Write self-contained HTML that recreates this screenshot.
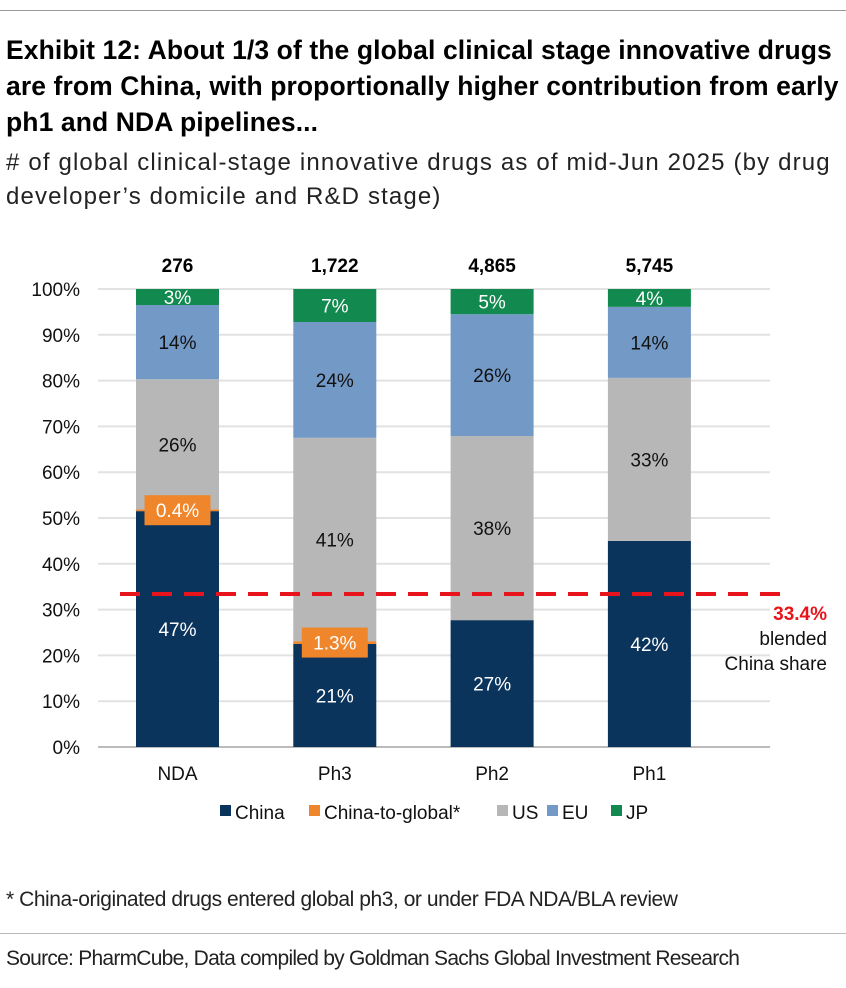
<!DOCTYPE html>
<html><head><meta charset="utf-8"><style>
body{margin:0;background:#fff;font-family:"Liberation Sans",sans-serif;}
#wrap{position:relative;width:846px;height:988px;overflow:hidden;}
.t{position:absolute;left:6px;white-space:nowrap;}
</style></head><body>
<div id="wrap">
<div style="position:absolute;left:0;top:10px;width:846px;height:1px;background:#999"></div>
<div class="t" style="top:32px;font-weight:bold;font-size:26.5px;line-height:36px;color:#000;white-space:normal;width:840px;letter-spacing:0.1px">Exhibit 12: About 1/3 of the global clinical stage innovative drugs are from China, with proportionally higher contribution from early ph1 and NDA pipelines...</div>
<div class="t" style="top:146px;font-size:24px;line-height:34px;color:#222;letter-spacing:1.15px">&#35; of global clinical-stage innovative drugs as of mid-Jun 2025 (by drug<br>developer’s domicile and R&amp;D stage)</div>
<svg id="chart" width="846" height="860" style="position:absolute;left:0;top:0"></svg>
<div class="t" style="top:888px;font-size:21px;color:#222;letter-spacing:-0.45px">* China-originated drugs entered global ph3, or under FDA NDA/BLA review</div>
<div style="position:absolute;left:0;top:933px;width:846px;height:1px;background:#bbb"></div>
<div class="t" style="top:947px;font-size:21px;color:#222;letter-spacing:-0.75px">Source: PharmCube, Data compiled by Goldman Sachs Global Investment Research</div>
</div>
<script>
const categories=["NDA","Ph3","Ph2","Ph1"];
const totals=["276","1,722","4,865","5,745"];
const seriesNames=["China","China-to-global*","US","EU","JP"];
const china=[51.5,22.5,27.7,45];
const chinaToGlobal=[0.4,0.6,0,0];
const us=[28.4,44.4,40.2,35.6];
const eu=[16.2,25.3,26.6,15.5];
const jp=[3.5,7.2,5.5,3.9];
const labelsChina=["47%","21%","27%","42%"];
const labelsC2G=["0.4%","1.3%","",""];
const labelsUS=["26%","41%","38%","33%"];
const labelsEU=["14%","24%","26%","14%"];
const labelsJP=["3%","7%","5%","4%"];
const yTicks=[0,10,20,30,40,50,60,70,80,90,100];
const blended=33.4;

const svg=document.getElementById('chart');
const NS='http://www.w3.org/2000/svg';
const y0=747,y1=289,xStart=98,xEnd=770;
const y=v=>y0-(v/100)*(y0-y1);
const band=157.3;
const bw=83;
const xc=i=>177.5+band*i;
function mk(tag,attrs){const e=document.createElementNS(NS,tag);for(const k in attrs)e.setAttribute(k,attrs[k]);svg.appendChild(e);return e;}
function txt(x,yy,s,opt){const e=mk('text',Object.assign({x:x,y:yy,'font-family':'Liberation Sans, sans-serif','font-size':19,'text-anchor':'middle'},opt||{}));e.textContent=s;return e;}

yTicks.forEach(t=>{
  const g=mk('line',{x1:xStart,x2:xEnd,y1:y(t),y2:y(t),stroke:t===0?'#bbb':'#e2e2e2','stroke-width':2});
  
  
  const l=txt(80,y(t)+7,t+'%',{'text-anchor':'end',fill:'#111'});
  
  
});

const series=[china,chinaToGlobal,us,eu,jp];
const labels=[labelsChina,labelsC2G,labelsUS,labelsEU,labelsJP];
const colors=['#0b345c','#f0862b','#b7b7b7','#7399c6','#128a4f'];
const textCol=['#fff','#fff','#111','#111','#fff'];
const names=['china','china-to-global','us','eu','jp'];
categories.forEach((c,i)=>{
  let acc=0;
  const segs=[];
  series.forEach((s,k)=>{
    const v=s[i];
    const r=mk('rect',{x:xc(i)-bw/2,y:y(acc+v),width:bw,height:Math.max(0,y(acc)-y(acc+v)),fill:colors[k]});
    
    
    segs.push([acc,v]);
    acc+=v;
  });
  series.forEach((s,k)=>{
    const lab=labels[k][i]; if(!lab)return;
    const [a,v]=segs[k];
    let cy=y(a+v/2);
    if(k===1){
      const bx=mk('rect',{x:xc(i)-33,y:cy-15,width:66,height:30,fill:colors[1]});
      
      
    }
    const tl=txt(xc(i),cy+7,lab,{fill:textCol[k]});
    
    
  });
  const tt=txt(xc(i),272,totals[i],{'font-weight':'bold','font-size':19,fill:'#000'});
  
  
  const cl=txt(xc(i),780,c,{fill:'#111'});
  
  
});

const dl=mk('line',{x1:120,x2:780,y1:y(blended),y2:y(blended),stroke:'#e8141b','stroke-width':4,'stroke-dasharray':'20,12'});


const a1=txt(827,620,blended+'%',{'text-anchor':'end','font-weight':'bold',fill:'#e8141b'});


const a2=txt(827,645,'blended',{'text-anchor':'end',fill:'#111'});


const a3=txt(827,670,'China share',{'text-anchor':'end',fill:'#111'});



const legX=[220,309,497,547,611];
seriesNames.forEach((n,k)=>{
  const r=mk('rect',{x:legX[k],y:805,width:11,height:11,fill:colors[k]});
  
  
  const t=txt(legX[k]+15,819,n,{'text-anchor':'start',fill:'#111'});
  
  
});
</script>
</body></html>
